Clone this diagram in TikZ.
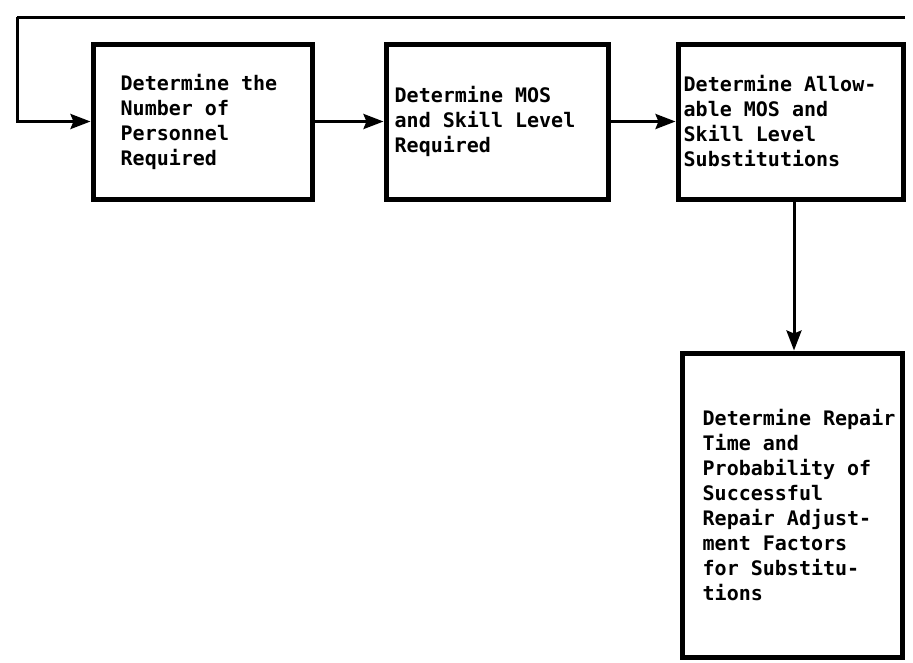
\documentclass[tikz,border=0pt]{standalone}
\usepackage{fontspec}
\newfontfamily\boxfont{DejaVu Sans Mono}
\usetikzlibrary{arrows.meta}
\begin{document}
\begin{tikzpicture}[x=1pt,y=-1pt,
  procbox/.style={draw, line width=5pt, inner sep=0pt},
  boxtext/.style={anchor=west, align=left, inner sep=0pt,
    font=\boxfont\bfseries\fontsize{20}{25}\selectfont},
  flow/.style={line width=3pt, -{Stealth[length=20pt,width=15pt,inset=3pt]}},
  link/.style={line width=3pt}]
  \fill[white] (0,0) rectangle (913,662);
  \useasboundingbox (0,0) rectangle (913,662);

  % process boxes
  \node[procbox, minimum width=219pt, minimum height=155pt] (b1) at (202.5,121.5) {};
  \node[procbox, minimum width=222pt, minimum height=155pt] (b2) at (497,121.5) {};
  \node[procbox, minimum width=225pt, minimum height=155pt] (b3) at (790.5,121.5) {};
  \node[procbox, minimum width=220pt, minimum height=304pt] (b4) at (792,505) {};

  % box texts
  \node[boxtext] (t1) at ([xshift=30]b1.west)
    {Determine the\\Number of\\Personnel\\Required};
  \node[boxtext] (t2) at ([xshift=11]b2.west)
    {Determine MOS\\and Skill Level\\Required};
  \node[boxtext] (t3) at ([xshift=8]b3.west)
    {Determine Allow-\\able MOS and\\Skill Level\\Substitutions};
  \node[boxtext] (t4) at ([xshift=23]b4.west)
    {Determine Repair\\Time and\\Probability of\\Successful\\Repair Adjust-\\ment Factors\\for Substitu-\\tions};

  % feedback line entering from the right
  \coordinate (fin) at (905,17);
  \coordinate (fcorner) at (17,17);
  \draw[link] (fin) -- (fcorner);
  \draw[flow] (fcorner) |- (b1.west);

  % forward flow
  \draw[flow] (b1.east) -- (b2.west);
  \draw[flow] (b2.east) -- (b3.west);
  \draw[flow] ([xshift=3.5]b3.south) -- ([xshift=2]b4.north);
\end{tikzpicture}
\end{document}
